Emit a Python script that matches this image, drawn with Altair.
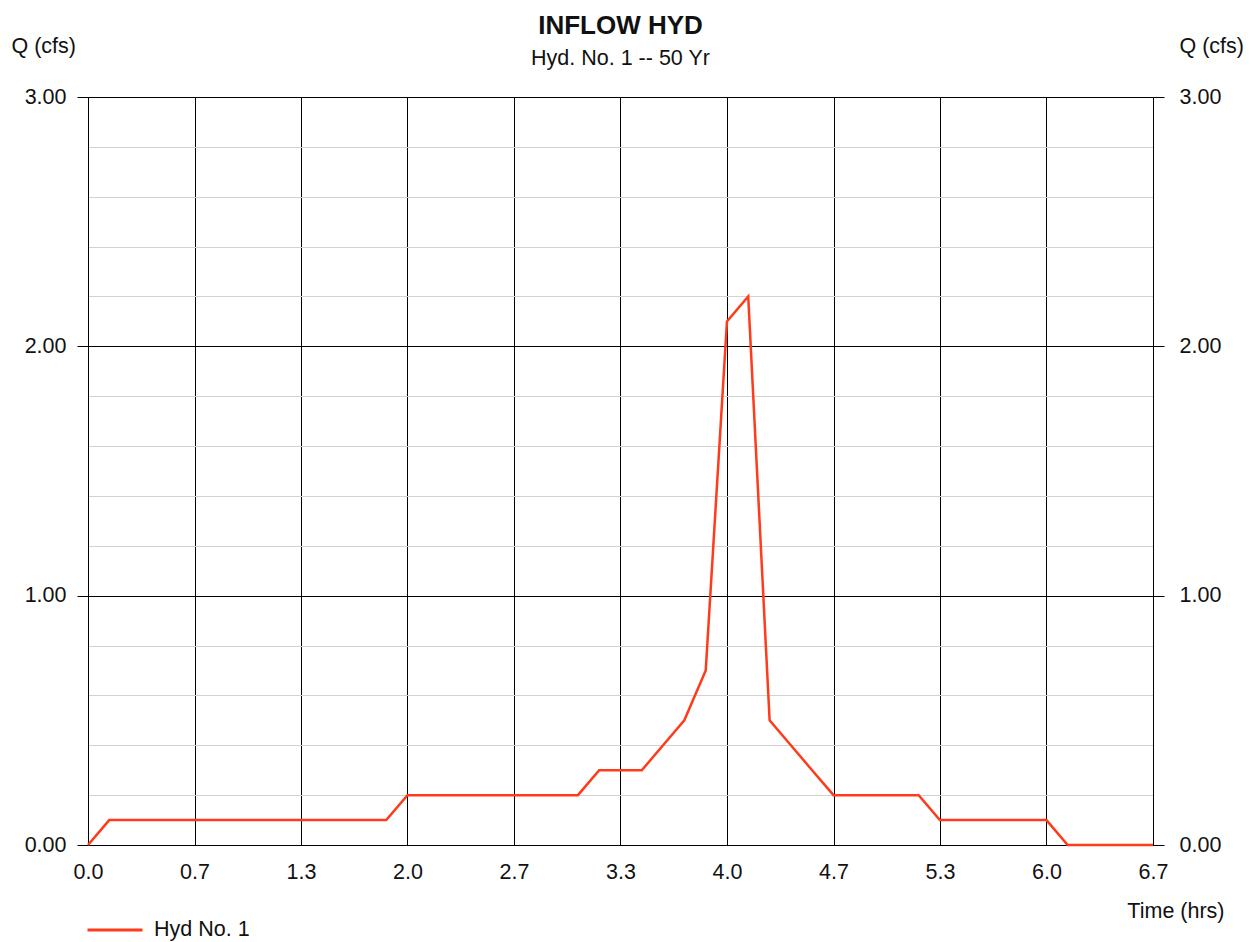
import altair as alt
import pandas as pd

# Data (time in hours, flow in cfs)
time_hrs = [0.000, 0.133, 0.267, 0.400, 0.533, 0.667, 0.800, 0.933, 1.067, 1.200,
            1.333, 1.467, 1.600, 1.733, 1.867, 2.000, 2.133, 2.267, 2.400, 2.533,
            2.667, 2.800, 2.933, 3.067, 3.200, 3.333, 3.467, 3.600, 3.733, 3.867,
            4.000, 4.133, 4.267, 4.400, 4.533, 4.667, 4.800, 4.933, 5.067, 5.200,
            5.333, 5.467, 5.600, 5.733, 5.867, 6.000, 6.133, 6.267, 6.400, 6.533,
            6.667]
flow_cfs = [0.0, 0.1, 0.1, 0.1, 0.1, 0.1, 0.1, 0.1, 0.1, 0.1,
            0.1, 0.1, 0.1, 0.1, 0.1, 0.2, 0.2, 0.2, 0.2, 0.2,
            0.2, 0.2, 0.2, 0.2, 0.3, 0.3, 0.3, 0.4, 0.5, 0.7,
            2.1, 2.2, 0.5, 0.4, 0.3, 0.2, 0.2, 0.2, 0.2, 0.2,
            0.1, 0.1, 0.1, 0.1, 0.1, 0.1, 0.0, 0.0, 0.0, 0.0,
            0.0]
series_name = "Hyd No. 1"

x_ticks = [0.0, 0.667, 1.333, 2.0, 2.667, 3.333, 4.0, 4.667, 5.333, 6.0, 6.667]
y_ticks = [0.0, 0.2, 0.4, 0.6, 0.8, 1.0, 1.2, 1.4, 1.6, 1.8, 2.0,
           2.2, 2.4, 2.6, 2.8, 3.0]

df = pd.DataFrame({"time": time_hrs, "flow": flow_cfs, "series": [series_name] * len(time_hrs)})

FONT = "Liberation Sans"
LINE_COLOR = "#ff3b1b"
is_major = "abs(datum.value - round(datum.value)) < 0.001"

x_enc = alt.X(
    "time:Q",
    scale=alt.Scale(domain=[0, 6.667], nice=False, zero=False),
    axis=alt.Axis(
        values=x_ticks, format=".1f", grid=True, gridColor="black", gridWidth=1,
        ticks=False, domainColor="black", labelFontSize=21.5, labelColor="#111",
        labelFont=FONT, labelPadding=16, labelFlush=False, labelOverlap=False,
        title="Time (hrs)", titleFont=FONT, titleFontSize=21.5, titleFontWeight="normal",
        titleColor="#111", titleAlign="right", titleBaseline="alphabetic",
        titleX=1136, titleY=72, titleAnchor="end",
    ),
)

y_scale = alt.Scale(domain=[0, 3], nice=False, zero=True)

left_axis = alt.Axis(
    orient="left", values=y_ticks,
    labelExpr=f"{is_major} ? format(datum.value, '.2f') : ''",
    grid=True,
    gridColor={"condition": {"test": is_major, "value": "black"}, "value": "#d2d2d2"},
    gridWidth=1,
    tickColor={"condition": {"test": is_major, "value": "black"}, "value": "transparent"},
    tickSize=11, domainColor="black",
    labelFont=FONT, labelFontSize=21.5, labelColor="#111", labelPadding=11,
    labelFlush=False, labelOverlap=False,
    title="Q (cfs)", titleFont=FONT, titleFontSize=21.5, titleFontWeight="normal",
    titleColor="#111", titleAngle=0, titleAlign="left", titleBaseline="alphabetic",
    titleX=-77, titleY=-45,
)

right_axis = alt.Axis(
    orient="right", values=y_ticks,
    labelExpr=f"{is_major} ? format(datum.value, '.2f') : ''",
    grid=False,
    tickColor={"condition": {"test": is_major, "value": "black"}, "value": "transparent"},
    tickSize=11, domainColor="black",
    labelFont=FONT, labelFontSize=21.5, labelColor="#111", labelPadding=15,
    labelFlush=False, labelOverlap=False,
    title="Q (cfs)", titleFont=FONT, titleFontSize=21.5, titleFontWeight="normal",
    titleColor="#111", titleAngle=0, titleAlign="left", titleBaseline="alphabetic",
    titleX=26, titleY=-45,
)

base = alt.Chart(df)

line_left = base.mark_line(strokeWidth=2.5).encode(
    x=x_enc,
    y=alt.Y("flow:Q", scale=y_scale, axis=left_axis),
    color=alt.Color(
        "series:N",
        scale=alt.Scale(domain=[series_name], range=[LINE_COLOR]),
        legend=alt.Legend(
            title=None, orient="none", legendX=-2, legendY=804, padding=0,
            symbolType="stroke", symbolStrokeWidth=3, symbolSize=3025,
            labelFont=FONT, labelFontSize=21.5, labelColor="#111", labelOffset=10,
        ),
    ),
)

line_right = base.mark_line(strokeWidth=2.5, strokeOpacity=0).encode(
    x=x_enc,
    y=alt.Y("flow:Q", scale=y_scale, axis=right_axis),
)

chart = (
    alt.layer(line_left, line_right)
    .resolve_scale(y="independent")
    .properties(
        width=1065, height=748,
        autosize=alt.AutoSizeParams(type="none"),
        padding={"left": 80, "top": 89, "right": 96, "bottom": 96},
        title=alt.TitleParams(
            text="INFLOW HYD", subtitle="Hyd. No. 1 -- 50 Yr",
            font=FONT, fontSize=26, fontWeight="bold", color="#111",
            subtitleFont=FONT, subtitleFontSize=21.5, subtitleColor="#111",
            subtitlePadding=9, anchor="middle", offset=-34,
        ),
    )
    .configure_view(strokeWidth=0)
    .configure(background="white")
)

chart.save("out.html", embed_options={"renderer": "svg", "actions": False})
